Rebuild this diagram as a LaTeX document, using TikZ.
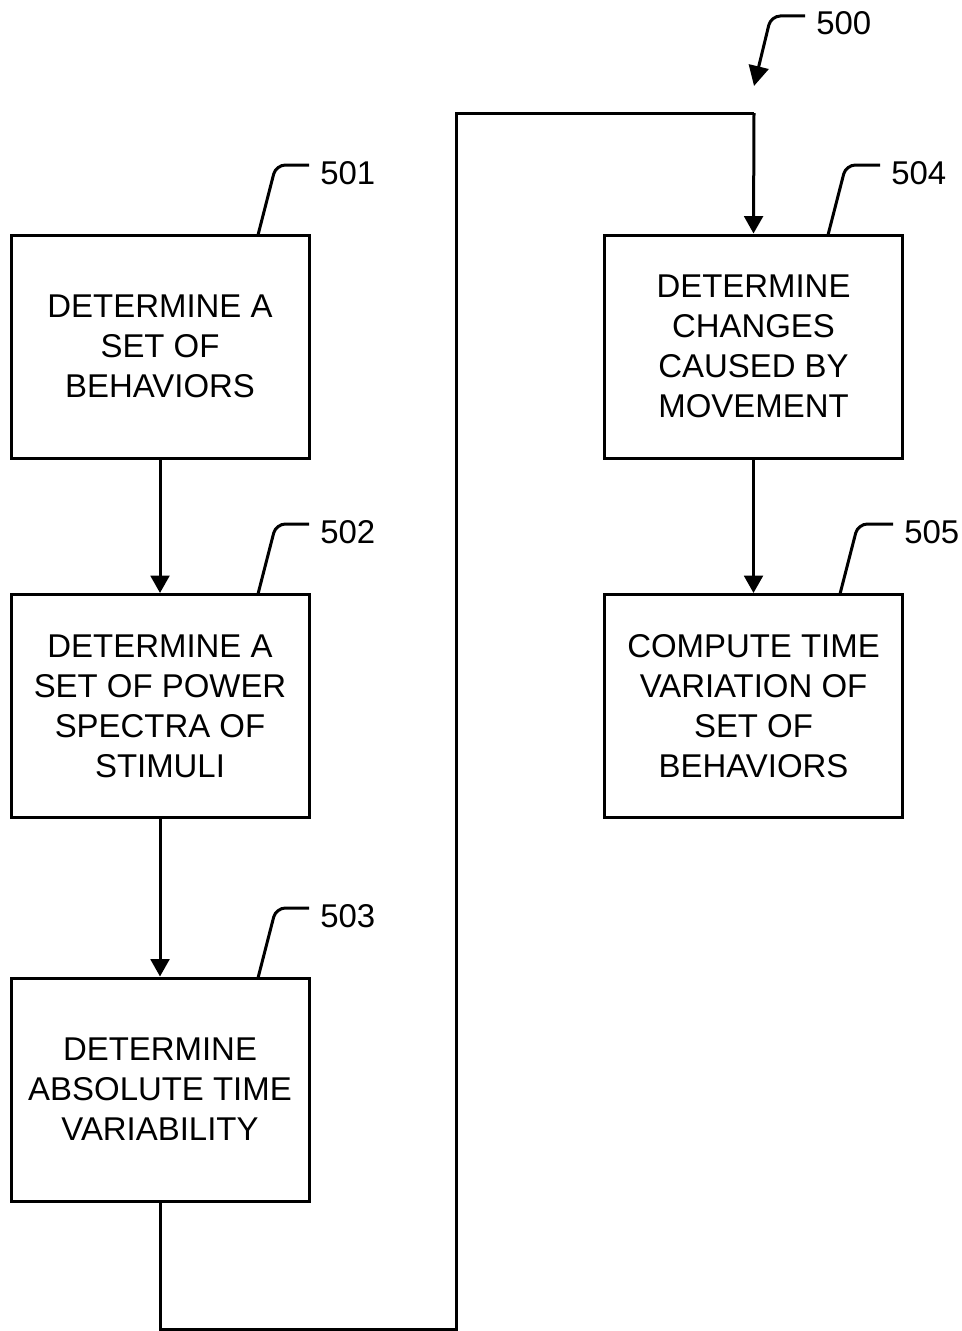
\documentclass[tikz,border=0pt]{standalone}
\usepackage{fontspec}
\setmainfont{Liberation Sans}
\usetikzlibrary{arrows.meta}
\tikzset{
  px/.style={x=0.75pt,y=-0.75pt},
  stepbox/.style={draw,line width=2.25pt,minimum width=223.5pt,minimum height=167.25pt,
    align=center,inner sep=0pt,font=\fontsize{24.7}{30}\selectfont},
  flow/.style={line width=2.25pt,-{Triangle[length=13pt,width=14pt]}},
  wire/.style={line width=2.25pt},
  leader/.style={line width=2.25pt,rounded corners=7pt},
  reflabel/.style={anchor=west,inner sep=0pt,font=\fontsize{24.7}{30}\selectfont},
}
\begin{document}
\begin{tikzpicture}[px]
\useasboundingbox (0,0) rectangle (962,1331);

% process steps
\node[stepbox] (s501) at (160,346.5) {DETERMINE A\\SET OF\\BEHAVIORS};
\node[stepbox] (s502) at (160,706) {DETERMINE A\\SET OF POWER\\SPECTRA OF\\STIMULI};
\node[stepbox] (s503) at (160,1089.5) {DETERMINE\\ABSOLUTE TIME\\VARIABILITY};
\node[stepbox] (s504) at (753.5,346.5) {DETERMINE\\CHANGES\\CAUSED BY\\MOVEMENT};
\node[stepbox] (s505) at (753.5,706) {COMPUTE TIME\\VARIATION OF\\SET OF\\BEHAVIORS};

% flow between steps
\draw[flow] (s501) -- (s502);
\draw[flow] (s502) -- (s503);
\draw[flow] (s504) -- (s505);

\coordinate (b1) at (160,1329);
\coordinate (b2) at (456,1329);
\coordinate (b3) at (456,113);
\coordinate (b4) at (754,113);
\draw[wire] (s503.south) -- (b1) -- (b2) -- (b3) -- (b4);
\draw[flow] (b4) -- (s504.north);

% reference numerals with leader lines
\node[reflabel] (n501) at (320,173) {501};
\node[reflabel] (n502) at (320,532) {502};
\node[reflabel] (n503) at (320,916) {503};
\node[reflabel] (n504) at (891,173) {504};
\node[reflabel] (n505) at (904,532) {505};
\node[reflabel] (n500) at (816,23) {500};

\coordinate (l501) at (258,235);
\coordinate (l502) at (258,594);
\coordinate (l503) at (258,978);
\coordinate (l504) at (828,235);
\coordinate (l505) at (840,594);

\draw[leader] (l501) -- (276,165) -- (309,165);
\draw[leader] (l502) -- (276,524) -- (309,524);
\draw[leader] (l503) -- (276,908) -- (309,908);
\draw[leader] (l504) -- (846,165) -- (880,165);
\draw[leader] (l505) -- (858,524) -- (893,524);

\coordinate (a500) at (754,86);
\draw[line width=2.25pt,rounded corners=7pt,-{Triangle[length=15pt,width=15pt]}]
  (805,16) -- (771,16) -- (a500);
\end{tikzpicture}
\end{document}
